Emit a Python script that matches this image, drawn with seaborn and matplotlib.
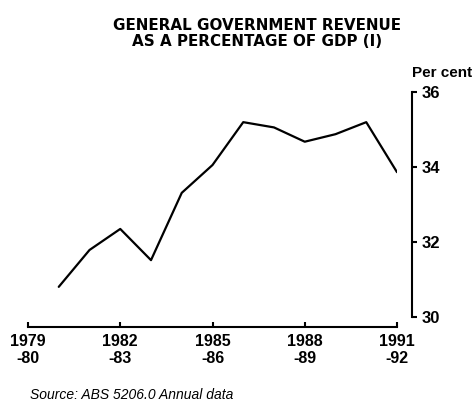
import matplotlib
matplotlib.use("Agg")
import matplotlib.pyplot as plt
import seaborn as sns
import pandas as pd

sns.set_theme(style="white")
plt.rcParams['font.family'] = ['Liberation Sans', 'DejaVu Sans']
plt.rcParams['text.color'] = 'black'
plt.rcParams['xtick.color'] = 'black'
plt.rcParams['ytick.color'] = 'black'
plt.rcParams['axes.labelcolor'] = 'black'

years = [1980, 1981, 1982, 1983, 1984, 1985, 1986, 1987, 1988, 1989, 1990, 1991]
revenue = [30.81, 31.79, 32.35, 31.52, 33.31, 34.05, 35.19, 35.05, 34.67, 34.87, 35.19, 33.86]
tick_years = [1979, 1982, 1985, 1988, 1991]
tick_labels = ["1979\n-80", "1982\n-83", "1985\n-86", "1988\n-89", "1991\n-92"]
y_ticks = [30, 32, 34, 36]
title_lines = ["GENERAL GOVERNMENT REVENUE", "AS A PERCENTAGE OF GDP (I)"]

df = pd.DataFrame({"year": years, "revenue": revenue})

W, H = 474, 401
fig = plt.figure(figsize=(W/100, H/100), dpi=100)
ax = fig.add_axes([28/W, (H-317.3)/H, (397-28)/W, (317.3-91.7)/H])

sns.lineplot(data=df, x="year", y="revenue", ax=ax, color="black", linewidth=1.6)

ax.set_xlim(1979, 1991)
ax.set_ylim(30, 36)
ax.set_xlabel("")
ax.set_ylabel("")

for s in ["top", "left"]:
    ax.spines[s].set_visible(False)
ax.spines["right"].set_position(("outward", 15 * 0.72))
ax.spines["bottom"].set_position(("outward", 9.4 * 0.72))
for s in ["right", "bottom"]:
    ax.spines[s].set_color("black")
    ax.spines[s].set_linewidth(1.5)

ax.yaxis.tick_right()
ax.set_yticks(y_ticks)
ax.set_yticklabels([str(v) for v in y_ticks], fontsize=12, fontweight="bold")
ax.tick_params(axis="y", direction="out", length=3.6, width=1.5, color="black", pad=3, right=True, left=False)

ax.set_xticks(tick_years)
ax.set_xticklabels(tick_labels, fontsize=11.5, fontweight="bold", linespacing=1.2)
ax.tick_params(axis="x", direction="in", length=3.6, width=1.5, color="black", pad=5, bottom=True)

fig.text(257/W, (H-29.5)/H, title_lines[0], ha="center", va="baseline",
         fontsize=10.9, fontweight="bold", family="DejaVu Sans")
fig.text(257/W, (H-45.5)/H, title_lines[1], ha="center", va="baseline",
         fontsize=10.9, fontweight="bold", family="DejaVu Sans")
fig.text(412/W, (H-73)/H, "Per cent", ha="left", va="center",
         fontsize=11, fontweight="bold")
fig.text(30/W, (H-395)/H, "Source: ABS 5206.0 Annual data", ha="left", va="center",
         fontsize=10, style="italic")

fig.savefig("out.png", dpi=100)
